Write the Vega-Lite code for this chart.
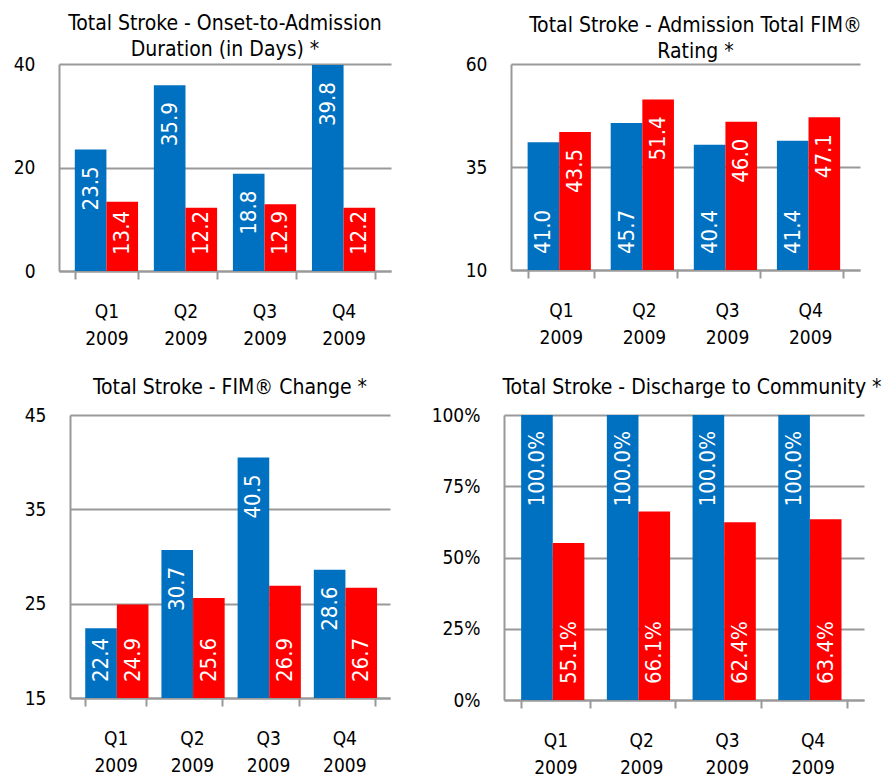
{
  "$schema": "https://vega.github.io/schema/vega-lite/v6.json",
  "padding": {"left": 13, "top": 13, "right": 0, "bottom": 0},
  "background": "white",
  "datasets": {
    "onset": [
      {"quarter": "Q1 2009", "series": "Facility", "value": 23.5},
      {"quarter": "Q1 2009", "series": "Region", "value": 13.4},
      {"quarter": "Q2 2009", "series": "Facility", "value": 35.9},
      {"quarter": "Q2 2009", "series": "Region", "value": 12.2},
      {"quarter": "Q3 2009", "series": "Facility", "value": 18.8},
      {"quarter": "Q3 2009", "series": "Region", "value": 12.9},
      {"quarter": "Q4 2009", "series": "Facility", "value": 39.8},
      {"quarter": "Q4 2009", "series": "Region", "value": 12.2}
    ],
    "admission": [
      {"quarter": "Q1 2009", "series": "Facility", "value": 41.0},
      {"quarter": "Q1 2009", "series": "Region", "value": 43.5},
      {"quarter": "Q2 2009", "series": "Facility", "value": 45.7},
      {"quarter": "Q2 2009", "series": "Region", "value": 51.4},
      {"quarter": "Q3 2009", "series": "Facility", "value": 40.4},
      {"quarter": "Q3 2009", "series": "Region", "value": 46.0},
      {"quarter": "Q4 2009", "series": "Facility", "value": 41.4},
      {"quarter": "Q4 2009", "series": "Region", "value": 47.1}
    ],
    "change": [
      {"quarter": "Q1 2009", "series": "Facility", "value": 22.4},
      {"quarter": "Q1 2009", "series": "Region", "value": 24.9},
      {"quarter": "Q2 2009", "series": "Facility", "value": 30.7},
      {"quarter": "Q2 2009", "series": "Region", "value": 25.6},
      {"quarter": "Q3 2009", "series": "Facility", "value": 40.5},
      {"quarter": "Q3 2009", "series": "Region", "value": 26.9},
      {"quarter": "Q4 2009", "series": "Facility", "value": 28.6},
      {"quarter": "Q4 2009", "series": "Region", "value": 26.7}
    ],
    "discharge": [
      {"quarter": "Q1 2009", "series": "Facility", "value": 1.0},
      {"quarter": "Q1 2009", "series": "Region", "value": 0.551},
      {"quarter": "Q2 2009", "series": "Facility", "value": 1.0},
      {"quarter": "Q2 2009", "series": "Region", "value": 0.661},
      {"quarter": "Q3 2009", "series": "Facility", "value": 1.0},
      {"quarter": "Q3 2009", "series": "Region", "value": 0.624},
      {"quarter": "Q4 2009", "series": "Facility", "value": 1.0},
      {"quarter": "Q4 2009", "series": "Region", "value": 0.634}
    ]
  },
  "config": {
    "font": "DejaVu Sans Condensed, sans-serif",
    "view": {"stroke": null},
    "title": {"fontSize": 21, "fontWeight": "normal", "color": "black", "lineHeight": 26, "frame": "group", "anchor": "middle"},
    "axis": {
      "labelFontSize": 19,
      "labelColor": "black",
      "domainColor": "#999999",
      "domainWidth": 2,
      "tickColor": "#999999",
      "tickWidth": 2,
      "gridColor": "#999999",
      "gridWidth": 2,
      "title": null
    },
    "axisX": {
      "grid": false,
      "tickSize": 8,
      "tickBand": "extent",
      "labelPadding": 23,
      "labelAngle": 0,
      "labelLineHeight": 27,
      "labelExpr": "split(datum.label, ' ')"
    },
    "axisY": {
      "grid": true,
      "ticks": false,
      "labelPadding": 24
    },
    "text": {"color": "white", "fontSize": 22, "angle": 270, "baseline": "middle"},
    "scale": {"bandPaddingInner": 0.2, "bandPaddingOuter": 0.1}
  },
  "vconcat": [
    {
      "hconcat": [
        {
          "width": 332, "height": 207,
          "title": {"text": ["Total Stroke - Onset-to-Admission", "Duration (in Days) *"], "offset": -5},
          "data": {"name": "onset"},
          "encoding": {
            "x": {"field": "quarter", "type": "nominal", "axis": {}},
            "xOffset": {"field": "series", "type": "nominal"},
            "y": {"field": "value", "type": "quantitative", "scale": {"domain": [0, 40]}, "axis": {"values": [0, 20, 40]}}
          },
          "layer": [
            {"mark": "bar", "encoding": {"color": {"field": "series", "type": "nominal", "scale": {"range": ["#0070C0", "#FF0000"]}, "legend": null}}},
            {"transform": [{"filter": "datum.series == 'Facility'"}], "mark": {"type": "text", "align": "right", "dx": -17}, "encoding": {"text": {"field": "value", "type": "quantitative", "format": ".1f"}}},
            {"transform": [{"filter": "datum.series == 'Region'"}], "mark": {"type": "text", "align": "left", "dx": 16}, "encoding": {"y": {"datum": 0, "type": "quantitative"}, "text": {"field": "value", "type": "quantitative", "format": ".1f"}}}
          ]
        },
        {
          "width": 349, "height": 206,
          "title": {"text": ["Total Stroke - Admission Total FIM®", "Rating *"], "offset": -7, "dx": 10},
          "data": {"name": "admission"},
          "encoding": {
            "x": {"field": "quarter", "type": "nominal", "axis": {}},
            "xOffset": {"field": "series", "type": "nominal"},
            "y": {"field": "value", "type": "quantitative", "scale": {"domain": [10, 60], "zero": false}, "axis": {"values": [10, 35, 60]}}
          },
          "layer": [
            {"mark": "bar", "encoding": {"y2": {"datum": 10}, "color": {"field": "series", "type": "nominal", "scale": {"range": ["#0070C0", "#FF0000"]}, "legend": null}}},
            {"transform": [{"filter": "datum.series == 'Region'"}], "mark": {"type": "text", "align": "right", "dx": -17}, "encoding": {"text": {"field": "value", "type": "quantitative", "format": ".1f"}}},
            {"transform": [{"filter": "datum.series == 'Facility'"}], "mark": {"type": "text", "align": "left", "dx": 16}, "encoding": {"y": {"datum": 10, "type": "quantitative"}, "text": {"field": "value", "type": "quantitative", "format": ".1f"}}}
          ]
        }
      ],
      "spacing": 74
    },
    {
      "hconcat": [
        {
          "hconcat": [
            {
              "width": 1, "height": 1,
              "data": {"values": [{}]},
              "mark": {"type": "point", "opacity": 0},
              "encoding": {}
            },
            {
              "width": 320, "height": 283,
              "title": {"text": "Total Stroke - FIM® Change *", "offset": 8},
              "data": {"name": "change"},
              "encoding": {
                "x": {"field": "quarter", "type": "nominal", "axis": {}},
                "xOffset": {"field": "series", "type": "nominal"},
                "y": {"field": "value", "type": "quantitative", "scale": {"domain": [15, 45], "zero": false}, "axis": {"values": [15, 25, 35, 45]}}
              },
              "layer": [
                {"mark": "bar", "encoding": {"y2": {"datum": 15}, "color": {"field": "series", "type": "nominal", "scale": {"range": ["#0070C0", "#FF0000"]}, "legend": null}}},
                {"transform": [{"filter": "datum.series == 'Facility' && datum.value >= 25"}], "mark": {"type": "text", "align": "right", "dx": -17}, "encoding": {"text": {"field": "value", "type": "quantitative", "format": ".1f"}}},
                {"transform": [{"filter": "datum.series == 'Region' || datum.value < 25"}], "mark": {"type": "text", "align": "left", "dx": 16}, "encoding": {"y": {"datum": 15, "type": "quantitative"}, "text": {"field": "value", "type": "quantitative", "format": ".1f"}}}
              ]
            }
          ],
          "spacing": -39
        },
        {
          "width": 360, "height": 285,
          "title": {"text": "Total Stroke - Discharge to Community *", "offset": 8, "dx": 8},
          "data": {"name": "discharge"},
          "encoding": {
            "x": {"field": "quarter", "type": "nominal", "axis": {}},
            "xOffset": {"field": "series", "type": "nominal"},
            "y": {"field": "value", "type": "quantitative", "scale": {"domain": [0, 1]}, "axis": {"values": [0, 0.25, 0.5, 0.75, 1], "format": ".0%"}}
          },
          "layer": [
            {"mark": "bar", "encoding": {"color": {"field": "series", "type": "nominal", "scale": {"range": ["#0070C0", "#FF0000"]}, "legend": null}}},
            {"transform": [{"filter": "datum.series == 'Facility'"}], "mark": {"type": "text", "align": "right", "dx": -16}, "encoding": {"text": {"field": "value", "type": "quantitative", "format": ".1%"}}},
            {"transform": [{"filter": "datum.series == 'Region'"}], "mark": {"type": "text", "align": "left", "dx": 16}, "encoding": {"y": {"datum": 0, "type": "quantitative"}, "text": {"field": "value", "type": "quantitative", "format": ".1%"}}}
          ]
        }
      ],
      "spacing": 41
    }
  ],
  "spacing": 29
}
